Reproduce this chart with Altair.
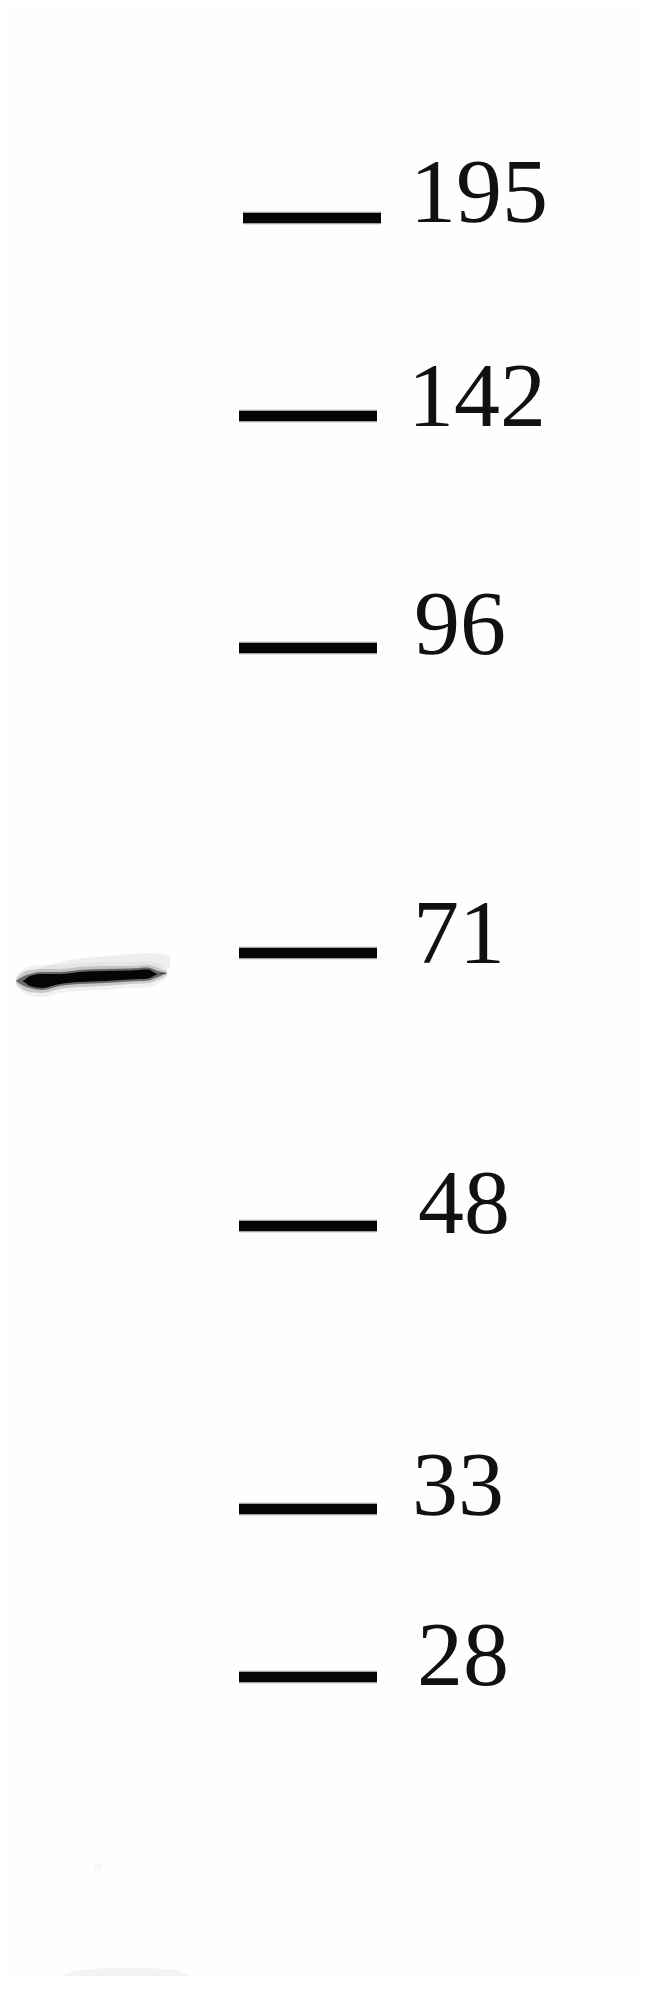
import altair as alt
import pandas as pd

# Molecular-weight ladder (kDa) and migration position on the blot
ladder_kda = ["195", "142", "96", "71", "48", "33", "28"]
ladder_pos = [218, 416, 648, 953, 1226, 1509, 1677]
tick_start = [243, 239, 239, 239, 239, 239, 239]
tick_end = [381, 377, 377, 377, 377, 377, 377]
label_x = [410, 408, 414, 413, 418, 412, 417]
label_base = [222, 426, 654, 963, 1233, 1515, 1685]

# Sample band: lane position, centre, half-thicknesses
band_x = [16, 22, 30, 42, 60, 80, 105, 130, 148, 158, 167]
band_c = [981, 981, 981, 981, 979, 977, 976, 975, 974, 974, 973]
band_core = [0, 0, 5, 7, 5, 5, 5, 4.5, 4.5, 0, 0]
band_mid = [0, 4, 7, 9, 7, 7, 7, 6.5, 6.5, 3, 0]
band_halo = [2, 8, 11, 12, 10, 10, 10, 9, 9, 6, 2]
band_glow = [5, 11, 15, 16, 14, 14, 14, 13, 13, 10, 4]

# Faint smear above the band
smear_x = [35, 70, 110, 150, 170]
smear_top = [970, 960, 956, 953, 956]
smear_bot = [978, 975, 972, 970, 968]

# Faint smudge at the bottom edge and speck
smudge_x = [60, 80, 120, 170, 190]
smudge_top = [1976, 1970, 1968, 1969, 1976]
speck_x = [98]
speck_y = [1867]

lad = pd.DataFrame(dict(kda=ladder_kda, pos=ladder_pos, x0=tick_start, x1=tick_end,
                        lx=label_x, ly=label_base))
band = pd.DataFrame(dict(x=band_x, c=band_c, core=band_core, mid=band_mid,
                         halo=band_halo, glow=band_glow))
for k in ("core", "mid", "halo", "glow"):
    band[k + "_t"] = band.c - band[k]
    band[k + "_b"] = band.c + band[k]
smear = pd.DataFrame(dict(x=smear_x, t=smear_top, b=smear_bot))
smudge = pd.DataFrame(dict(x=smudge_x, t=smudge_top, b=[1976] * len(smudge_x)))
speck = pd.DataFrame(dict(x=speck_x, y=speck_y))


def qx(f):
    return alt.X(f + ":Q", scale=alt.Scale(domain=[8, 642], nice=False), axis=None)


def qy(f):
    return alt.Y(f + ":Q", scale=alt.Scale(domain=[8, 1976], reverse=True, nice=False), axis=None)


def area(df, t, b, color, op):
    return alt.Chart(df).mark_area(color=color, opacity=op, interpolate="monotone").encode(
        x=qx("x"), y=qy(t), y2=alt.Y2(b))


def rule(w, color, op):
    return alt.Chart(lad).mark_rule(color=color, strokeWidth=w, opacity=op).encode(
        x=qx("x0"), x2=alt.X2("x1"), y=qy("pos"))


layers = [
    area(smudge, "t", "b", "#f3f3f3", 1),
    alt.Chart(speck).mark_circle(color="#f4f4f4", size=50).encode(x=qx("x"), y=qy("y")),
    area(smear, "t", "b", "#dcdcdc", 0.45),
    area(band, "glow_t", "glow_b", "#cccccc", 0.25),
    area(band, "halo_t", "halo_b", "#999999", 0.45),
    area(band, "mid_t", "mid_b", "#404040", 0.7),
    area(band, "core_t", "core_b", "#050505", 1),
    rule(14, "#cccccc", 0.5),
    rule(12, "#777777", 0.6),
    rule(10, "#050505", 1),
    alt.Chart(lad).mark_text(font="Liberation Serif", fontSize=92, align="left",
                             baseline="alphabetic", color="#111111").encode(
        x=qx("lx"), y=qy("ly"), text="kda:N"),
]

chart = alt.layer(*layers).properties(
    width=634, height=1968, padding=0, background="#fefefe",
    autosize=alt.AutoSizeParams(type="none"),
).configure_view(stroke=None)

chart.save("out.html", embed_options={"renderer": "svg", "actions": False})
